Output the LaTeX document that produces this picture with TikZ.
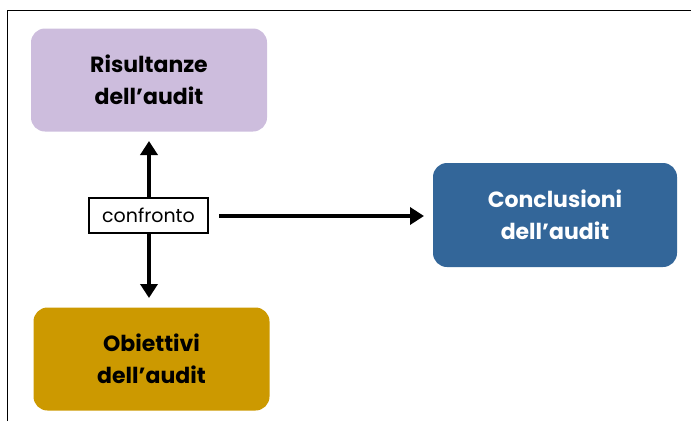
\documentclass[tikz,border=0pt]{standalone}
\usepackage{fontspec}
\setmainfont{Poppins}
\usetikzlibrary{arrows.meta}
\definecolor{lilac}{HTML}{CDBDDD}
\definecolor{gold}{HTML}{CC9900}
\definecolor{steel}{HTML}{336699}
\tikzset{
  bigbox/.style={rounded corners=14pt, minimum width=236pt, minimum height=103pt,
    align=center, font=\fontsize{22pt}{32pt}\selectfont\bfseries, inner sep=0pt},
  linkarrow/.style={line width=4.4pt, -{Triangle[width=17pt,length=14pt]}},
  smallbox/.style={draw=black, line width=2pt, fill=white, minimum width=119pt,
    minimum height=35pt, inner sep=0pt, font=\fontsize{19pt}{22pt}\selectfont\mdseries}
}
\begin{document}
\begin{tikzpicture}[x=1pt,y=-1pt]
\useasboundingbox (0,0) rectangle (691,421);
\draw[line width=1pt] (7,421) -- (7,10) -- (691,10);
\node[bigbox, fill=lilac, text=black] (ris) at (149,80) {Risultanze\\dell’audit};
\node[bigbox, fill=gold, text=black] (obi) at (151.5,359) {Obiettivi\\dell’audit};
\node[bigbox, fill=steel, text=white, minimum width=244pt, minimum height=104pt] (con) at (555,215) {Conclusioni\\dell’audit};
\node[smallbox] (cf) at (148.5,215.5) {confronto};
\coordinate (uptip) at (149,141);
\coordinate (downtip) at (149,298);
\coordinate (rstart) at (219,216);
\coordinate (rtip) at (424,216);
\draw[linkarrow] (cf.north -| uptip) -- (uptip);
\draw[linkarrow] (cf.south -| downtip) -- (downtip);
\draw[linkarrow] (rstart) -- (rtip);
\end{tikzpicture}
\end{document}
